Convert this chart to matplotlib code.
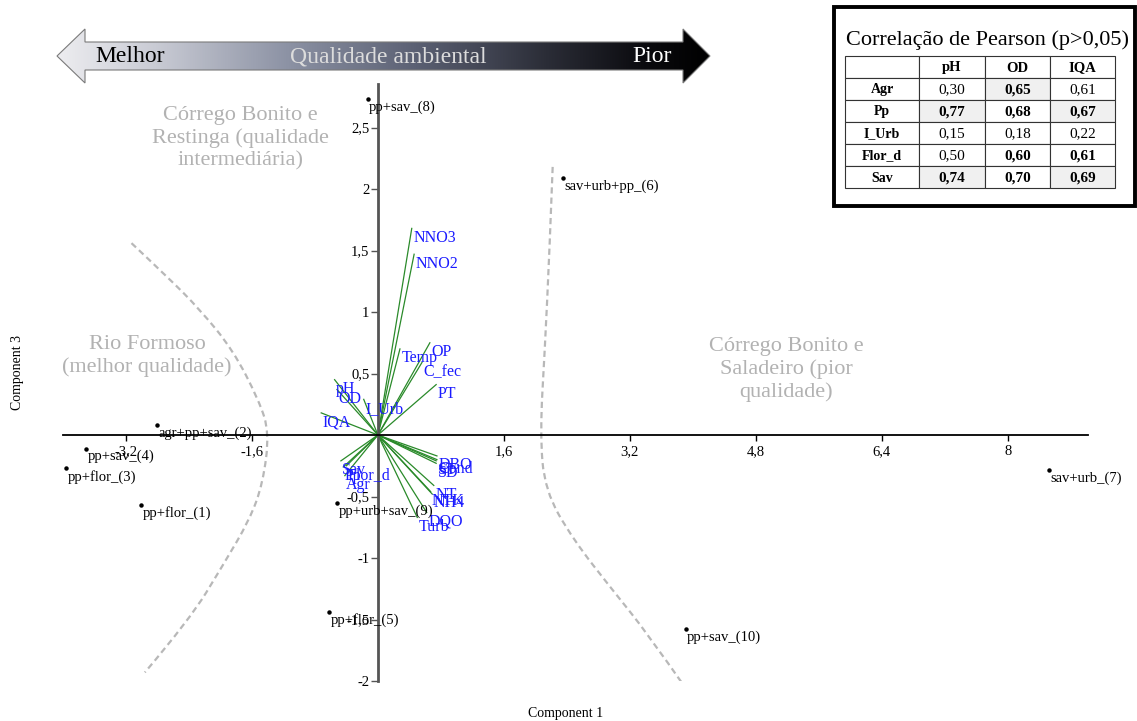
import numpy as np
import matplotlib.pyplot as plt
from matplotlib.colors import LinearSegmentedColormap
from matplotlib.path import Path
from matplotlib.patches import PathPatch, Rectangle

plt.rcParams['font.family'] = ['Liberation Serif', 'DejaVu Serif']

# Sample scores (Component 1, Component 3)
site_labels = ['pp+flor_(1)', 'agr+pp+sav_(2)', 'pp+flor_(3)', 'pp+sav_(4)', 'pp+flor_(5)',
               'sav+urb+pp_(6)', 'sav+urb_(7)', 'pp+sav_(8)', 'pp+urb+sav_(9)', 'pp+sav_(10)']
site_x = [-3.01, -2.80, -3.96, -3.71, -0.62, 2.35, 8.52, -0.13, -0.52, 3.91]
site_y = [-0.57, 0.08, -0.27, -0.11, -1.44, 2.09, -0.285, 2.73, -0.555, -1.58]

# Variable loadings
var_labels = ['NNO3', 'NNO2', 'Temp', 'OP', 'C_fec', 'PT', 'pH', 'OD', 'I_Urb', 'IQA',
              'DBO', 'Cond', 'ST', 'SD', 'NT', 'NTK', 'NH4', 'DQO', 'Turb',
              'Sav', 'Pp', 'Flor_d', 'Agr']
var_x = [0.43, 0.46, 0.28, 0.66, 0.56, 0.74, -0.55, -0.52, -0.18, -0.72,
         0.75, 0.75, 0.74, 0.74, 0.71, 0.67, 0.69, 0.62, 0.50,
         -0.47, -0.44, -0.40, -0.42]
var_y = [1.68, 1.47, 0.70, 0.75, 0.59, 0.41, 0.45, 0.37, 0.29, 0.18,
         -0.17, -0.20, -0.21, -0.23, -0.41, -0.46, -0.48, -0.63, -0.67,
         -0.21, -0.26, -0.25, -0.33]

# Group boundaries (dashed guides, control points)
left_curve_x = [-3.13, -2.68, -2.26, -1.84, -1.51, -1.38, -1.46, -1.63, -1.97, -2.39, -2.96]
left_curve_y = [1.56, 1.29, 1.02, 0.69, 0.28, 0.02, -0.39, -0.69, -1.06, -1.50, -1.93]
right_curve_x = [2.22, 2.18, 2.12, 2.06, 2.12, 2.48, 2.98, 3.42, 3.90]
right_curve_y = [2.18, 1.50, 0.69, 0.02, -0.45, -0.85, -1.26, -1.61, -2.05]

x_ticks = [-3.2, -1.6, 1.6, 3.2, 4.8, 6.4, 8]
y_ticks = [-2, -1.5, -1, -0.5, 0.5, 1, 1.5, 2, 2.5]

# Pearson table
tab_rows = ['Agr', 'Pp', 'I_Urb', 'Flor_d', 'Sav']
tab_cols = ['pH', 'OD', 'IQA']
tab_vals = [[0.30, 0.65, 0.61],
            [0.77, 0.68, 0.67],
            [0.15, 0.18, 0.22],
            [0.50, 0.60, 0.61],
            [0.74, 0.70, 0.69]]
tab_bold = [[False, True, False],
            [True, True, True],
            [False, False, False],
            [False, True, True],
            [True, True, True]]
tab_shade = [[False, True, False],
             [True, False, True],
             [False, False, False],
             [False, False, False],
             [True, False, True]]


def fmt(v):
    return f"{v:g}".replace('.', ',')


def smooth_path(xs, ys):
    # quadratic B-spline through the control points, drawn by matplotlib's Path
    pts = list(zip(xs, ys))
    verts = [pts[0]]
    codes = [Path.MOVETO]
    for i in range(1, len(pts) - 1):
        mid = ((pts[i][0] + pts[i + 1][0]) / 2, (pts[i][1] + pts[i + 1][1]) / 2)
        if i == len(pts) - 2:
            mid = pts[-1]
        verts += [pts[i], mid]
        codes += [Path.CURVE3, Path.CURVE3]
    return Path(verts, codes)


W, H = 1137, 721
fig = plt.figure(figsize=(W / 100, H / 100), dpi=100)
ax = fig.add_axes([63 / W, 1 - 681 / H, 1025 / W, (681 - 84.5) / H])
ax.set_xlim(-4.0, 9.02)
ax.set_ylim(-2.0, 2.85)

for s in ['top', 'right']:
    ax.spines[s].set_visible(False)
ax.spines['left'].set_position(('data', 0))
ax.spines['bottom'].set_position(('data', 0))
ax.spines['left'].set_color('#555555')
ax.spines['left'].set_linewidth(2)
ax.spines['bottom'].set_linewidth(1.3)

ax.set_xticks(x_ticks)
ax.set_xticklabels([fmt(v) for v in x_ticks])
ax.set_yticks(y_ticks)
ax.set_yticklabels([fmt(v) for v in y_ticks])
ax.tick_params(axis='x', direction='out', length=4, width=1, pad=3, labelsize=10.5)
ax.tick_params(axis='y', direction='out', length=5, width=1, pad=1, labelsize=10.5, color='#555555')

# guide curves
for cx, cy in [(left_curve_x, left_curve_y), (right_curve_x, right_curve_y)]:
    ax.add_patch(PathPatch(smooth_path(cx, cy), facecolor='none', edgecolor='#b8b8b8',
                           lw=1.6, ls=(0, (2.8, 1.8)), zorder=1))

# loadings
for lbl, vx, vy in zip(var_labels, var_x, var_y):
    ax.plot([0, vx], [0, vy], color='#2a8a2a', lw=0.9, zorder=2)
    ax.annotate(lbl, (vx, vy), xytext=(1, -1), textcoords='offset points',
                ha='left', va='top', fontsize=11.5, color='#1a1aff', zorder=3)

# sample scores
ax.plot(site_x, site_y, 'o', color='black', ms=2.2, zorder=4)
for lbl, sx, sy in zip(site_labels, site_x, site_y):
    ax.annotate(lbl, (sx, sy), xytext=(1, -1), textcoords='offset points',
                ha='left', va='top', fontsize=10.5, color='black', zorder=4)

# group labels
grey_txt = dict(ha='center', va='center', fontsize=16, color='#b2b2b2', linespacing=1.22)
ax.text(-1.75, 2.41, 'Córrego Bonito e\nRestinga (qualidade\nintermediária)', **grey_txt)
ax.text(-2.93, 0.64, 'Rio Formoso\n(melhor qualidade)', **grey_txt)
ax.text(5.19, 0.53, 'Córrego Bonito e\nSaladeiro (pior\nqualidade)', **grey_txt)

fig.text(566 / W, 1 - 713 / H, 'Component 1', ha='center', va='center', fontsize=10)
fig.text(18 / W, 1 - 372 / H, 'Component 3', ha='center', va='center', fontsize=10, rotation=90)

# overlay in pixel units for the quality arrow and the table
ov = fig.add_axes([0, 0, 1, 1])
ov.axis('off')
ov.patch.set_alpha(0)

arrow_pts = [(57, 56), (85, 29), (85, 42), (683, 42), (683, 29), (710, 56),
             (683, 83), (683, 70), (85, 70), (85, 83), (57, 56)]
arrow_patch = PathPatch(Path(arrow_pts, closed=True), facecolor='none',
                        edgecolor='#7a7a7a', lw=0.8, zorder=3)
ov.add_patch(arrow_patch)
cmap = LinearSegmentedColormap.from_list('quality', [
    (0.0, '#ededf0'), (0.15, '#c9cbd4'), (0.35, '#8d93a5'), (0.55, '#5b6073'),
    (0.75, '#2b2d37'), (0.9, '#0b0b0f'), (1.0, '#000000')])
grad = np.linspace(0, 1, 256).reshape(1, -1)
img = ov.imshow(grad, cmap=cmap, extent=[57, 710, 83, 29], aspect='auto', zorder=2)
img.set_clip_path(arrow_patch)
ov.set_xlim(0, W)
ov.set_ylim(H, 0)

ov.text(95, 57, 'Melhor', ha='left', va='center', fontsize=17, color='black', zorder=4)
ov.text(388, 57, 'Qualidade ambiental', ha='center', va='center', fontsize=17, color='#dcdcdc', zorder=4)
ov.text(672, 57, 'Pior', ha='right', va='center', fontsize=17, color='white', zorder=4)

# Pearson correlation table
ov.add_patch(Rectangle((834, 7), 301, 199, fill=False, lw=2.8, ec='black', zorder=3))
ov.text(988, 40, 'Correlação de Pearson (p>0,05)', ha='center', va='center', fontsize=16, zorder=4)
col_edges = [845, 919, 985, 1050, 1115]
row_edges = [56, 78, 100, 122, 144, 166, 188]
for r in range(len(tab_rows) + 1):
    for c in range(len(tab_cols) + 1):
        x0, x1 = col_edges[c], col_edges[c + 1]
        y0, y1 = row_edges[r], row_edges[r + 1]
        shade = r > 0 and c > 0 and tab_shade[r - 1][c - 1]
        ov.add_patch(Rectangle((x0, y0), x1 - x0, y1 - y0, facecolor='#f0f0f0' if shade else 'white',
                               edgecolor='#333333', lw=0.8, zorder=3))
        cx, cy = (x0 + x1) / 2, (y0 + y1) / 2 + 1
        if r == 0 and c == 0:
            continue
        if r == 0:
            ov.text(cx, cy, tab_cols[c - 1], ha='center', va='center', fontsize=10.5,
                    fontweight='bold', zorder=4)
        elif c == 0:
            ov.text(cx, cy, tab_rows[r - 1], ha='center', va='center', fontsize=10,
                    fontweight='bold', zorder=4)
        else:
            v = tab_vals[r - 1][c - 1]
            ov.text(cx, cy, f"{v:.2f}".replace('.', ','), ha='center', va='center', fontsize=11,
                    fontweight='bold' if tab_bold[r - 1][c - 1] else 'normal', zorder=4)

fig.savefig('out.png', dpi=100)
